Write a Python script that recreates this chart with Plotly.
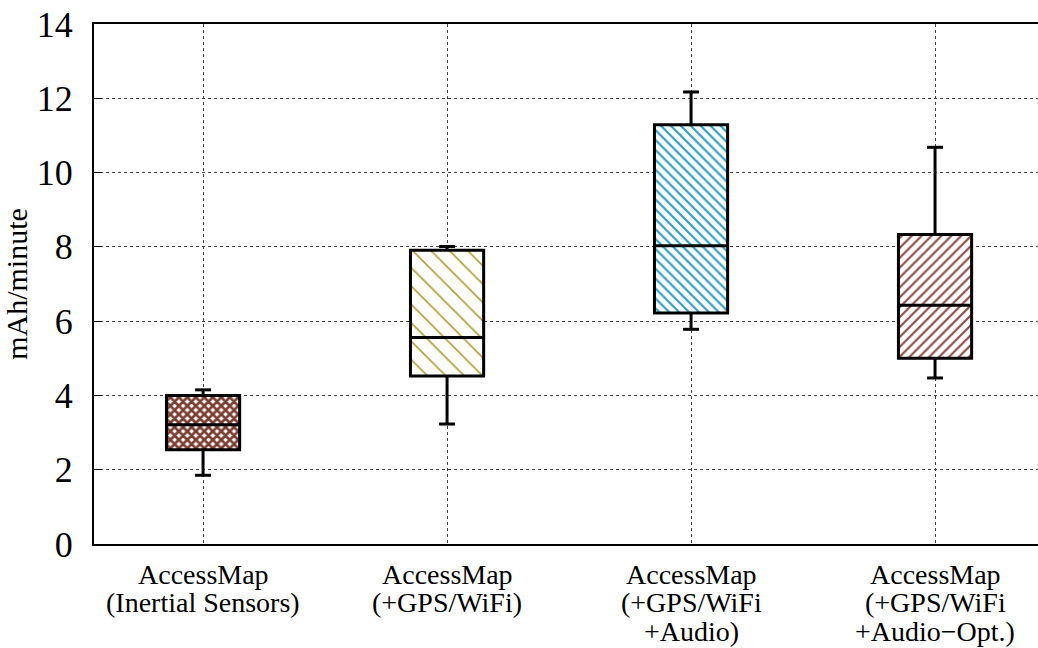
import plotly.graph_objects as go

# Battery drain per configuration (mAh/minute), box-plot summary statistics
categories = [
    ["AccessMap", "(Inertial Sensors)"],
    ["AccessMap", "(+GPS/WiFi)"],
    ["AccessMap", "(+GPS/WiFi", "+Audio)"],
    ["AccessMap", "(+GPS/WiFi", "+Audio\u2212Opt.)"],
]
lower_whisker = [1.85, 3.23, 5.78, 4.47]
q1 = [2.54, 4.52, 6.22, 5.00]
median = [3.21, 5.56, 8.03, 6.43]
q3 = [4.00, 7.91, 11.29, 8.33]
upper_whisker = [4.15, 8.01, 12.17, 10.68]

y_ticks = [0, 2, 4, 6, 8, 10, 12, 14]

# Fill styles per box
pattern_shapes = ["x", "\\", "\\", "/"]
pattern_colors = ["#7B4034", "#B3A03A", "#2A9EC4", "#8A4A44"]
pattern_sizes = [6, 13, 7, 7]
pattern_solidity = [0.7, 0.13, 0.3, 0.3]

FONT = "Liberation Serif"
BOX_W = 0.30
CAP_W = 0.065
xs = list(range(len(categories)))

fig = go.Figure()

# Boxes (interquartile range) as patterned bars
for i in xs:
    fig.add_trace(go.Bar(
        x=[i], y=[q3[i] - q1[i]], base=[q1[i]], width=BOX_W,
        marker=dict(
            color="white",
            line=dict(color="black", width=3),
            pattern=dict(shape=pattern_shapes[i], fgcolor=pattern_colors[i],
                         bgcolor="white", size=pattern_sizes[i],
                         solidity=pattern_solidity[i], fgopacity=1),
        ),
        showlegend=False, hoverinfo="skip",
    ))

# Medians, whiskers and caps
seg_x, seg_y = [], []
for i in xs:
    seg_x += [i - BOX_W / 2, i + BOX_W / 2, None]
    seg_y += [median[i], median[i], None]
    seg_x += [i, i, None, i, i, None]
    seg_y += [q3[i], upper_whisker[i], None, q1[i], lower_whisker[i], None]
    seg_x += [i - CAP_W / 2, i + CAP_W / 2, None, i - CAP_W / 2, i + CAP_W / 2, None]
    seg_y += [upper_whisker[i], upper_whisker[i], None, lower_whisker[i], lower_whisker[i], None]

fig.add_trace(go.Scatter(
    x=seg_x, y=seg_y, mode="lines",
    line=dict(color="black", width=3),
    showlegend=False, hoverinfo="skip",
))

# Category labels, one line per annotation
for i, lines in enumerate(categories):
    for k, txt in enumerate(lines):
        fig.add_annotation(
            x=i, y=0, xref="x", yref="paper", text=txt, showarrow=False,
            yanchor="middle", yshift=-30 - 28.5 * k, borderpad=0,
            font=dict(family=FONT, size=28, color="black"),
        )

fig.update_layout(
    width=1038, height=648,
    margin=dict(l=94, r=0, t=24, b=104),
    plot_bgcolor="white", paper_bgcolor="white",
    font=dict(family=FONT, color="black"),
    barmode="overlay",
    xaxis=dict(
        range=[-0.447, 3.422], tickvals=xs, showticklabels=False,
        showgrid=True, gridcolor="#444444", griddash="dot", gridwidth=1,
        showline=True, linecolor="black", linewidth=2, mirror=True,
        zeroline=False, ticks="",
    ),
    yaxis=dict(
        range=[0, 14], tickvals=y_ticks,
        showgrid=True, gridcolor="#444444", griddash="dot", gridwidth=1,
        showline=True, linecolor="black", linewidth=2,
        zeroline=False, ticks="inside", ticklen=8, tickwidth=1, tickcolor="black",
        tickfont=dict(family=FONT, size=36, color="black"),
        ticklabelstandoff=12,
        title=dict(text="mAh/minute", font=dict(family=FONT, size=30, color="black"),
                   standoff=8),
    ),
)

fig.write_html("out.html")
